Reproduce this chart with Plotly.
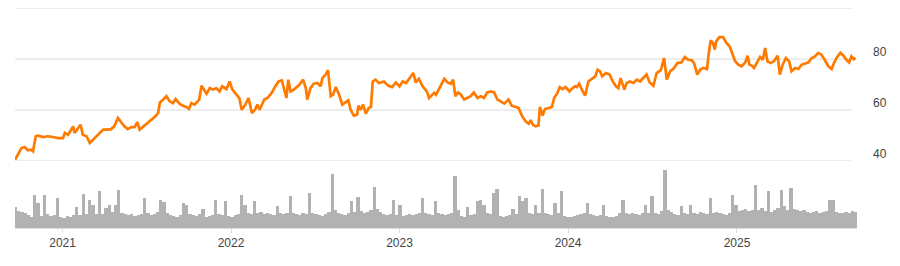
import pandas as pd
import plotly.graph_objects as go

# ---------------- data ----------------
price_dates = [
    "2020-09-20", "2020-09-26", "2020-10-04", "2020-10-11", "2020-10-18", "2020-10-25", "2020-10-29",
    "2020-11-04", "2020-11-09", "2020-11-20", "2020-11-30", "2020-12-11", "2020-12-22",
    "2021-01-02", "2021-01-06", "2021-01-13", "2021-01-20", "2021-01-24", "2021-01-27", "2021-02-03",
    "2021-02-09", "2021-02-14", "2021-02-22", "2021-03-01", "2021-03-08", "2021-03-15", "2021-03-22",
    "2021-03-30", "2021-04-09", "2021-04-16", "2021-04-23", "2021-05-01", "2021-05-08", "2021-05-15",
    "2021-05-22", "2021-05-30", "2021-06-06", "2021-06-12", "2021-06-17", "2021-06-24", "2021-07-05",
    "2021-07-12", "2021-07-20", "2021-07-27", "2021-07-31", "2021-08-07", "2021-08-14", "2021-08-21",
    "2021-08-28", "2021-09-03", "2021-09-11", "2021-09-19", "2021-09-26", "2021-10-02", "2021-10-07",
    "2021-10-14", "2021-10-24", "2021-10-29", "2021-11-03", "2021-11-09", "2021-11-16", "2021-11-23",
    "2021-11-30", "2021-12-07", "2021-12-13", "2021-12-22", "2021-12-29",
    "2022-01-04", "2022-01-11", "2022-01-19", "2022-01-24", "2022-02-01", "2022-02-08", "2022-02-15",
    "2022-02-22", "2022-02-27", "2022-03-04", "2022-03-14", "2022-03-21", "2022-03-30", "2022-04-07",
    "2022-04-14", "2022-04-21", "2022-04-26", "2022-05-01", "2022-05-05", "2022-05-10", "2022-05-17",
    "2022-05-29", "2022-06-06", "2022-06-12", "2022-06-15", "2022-06-22", "2022-06-29", "2022-07-07",
    "2022-07-14", "2022-07-18", "2022-07-25", "2022-07-30", "2022-08-05", "2022-08-10", "2022-08-16",
    "2022-08-23", "2022-08-30", "2022-09-06", "2022-09-12", "2022-09-17", "2022-09-24", "2022-10-01",
    "2022-10-04", "2022-10-09", "2022-10-14", "2022-10-20", "2022-10-26", "2022-10-31", "2022-11-04",
    "2022-11-10", "2022-11-17", "2022-11-28", "2022-12-08", "2022-12-16", "2022-12-24",
    "2023-01-01", "2023-01-08", "2023-01-15", "2023-01-22", "2023-01-31", "2023-02-05", "2023-02-12",
    "2023-02-20", "2023-03-01", "2023-03-06", "2023-03-12", "2023-03-17", "2023-03-21", "2023-03-28",
    "2023-04-08", "2023-04-15", "2023-04-22", "2023-04-27", "2023-05-02", "2023-05-08", "2023-05-14",
    "2023-05-21", "2023-05-28", "2023-06-04", "2023-06-11", "2023-06-19", "2023-06-26", "2023-07-03",
    "2023-07-10", "2023-07-18", "2023-07-25", "2023-08-01", "2023-08-08", "2023-08-16", "2023-08-25",
    "2023-09-01", "2023-09-10", "2023-09-16", "2023-09-23", "2023-10-01", "2023-10-08", "2023-10-12",
    "2023-10-17", "2023-10-23", "2023-10-29", "2023-11-01", "2023-11-07", "2023-11-12", "2023-11-20",
    "2023-11-27", "2023-12-02", "2023-12-09", "2023-12-14", "2023-12-20", "2023-12-27",
    "2024-01-04", "2024-01-11", "2024-01-16", "2024-01-20", "2024-01-25", "2024-01-31", "2024-02-07",
    "2024-02-14", "2024-02-22", "2024-02-29", "2024-03-05", "2024-03-10", "2024-03-15", "2024-03-23",
    "2024-03-31", "2024-04-07", "2024-04-14", "2024-04-19", "2024-04-24", "2024-04-28", "2024-05-02",
    "2024-05-07", "2024-05-14", "2024-05-22", "2024-05-29", "2024-06-05", "2024-06-12", "2024-06-19",
    "2024-06-26", "2024-07-04", "2024-07-11", "2024-07-20", "2024-07-27", "2024-08-02", "2024-08-09",
    "2024-08-16", "2024-08-25", "2024-09-03", "2024-09-10", "2024-09-17", "2024-09-25", "2024-09-30",
    "2024-10-07", "2024-10-13", "2024-10-20", "2024-10-28", "2024-11-01", "2024-11-05", "2024-11-10",
    "2024-11-14", "2024-11-17", "2024-11-24", "2024-12-02", "2024-12-09", "2024-12-16", "2024-12-21",
    "2024-12-28",
    "2025-01-04", "2025-01-11", "2025-01-19", "2025-01-24", "2025-01-28", "2025-02-02", "2025-02-07",
    "2025-02-14", "2025-02-20", "2025-02-26", "2025-03-03", "2025-03-08", "2025-03-15", "2025-03-22",
    "2025-03-30", "2025-04-04", "2025-04-10", "2025-04-17", "2025-04-24", "2025-04-29", "2025-05-07",
    "2025-05-14", "2025-05-21", "2025-05-29", "2025-06-05", "2025-06-12", "2025-06-19", "2025-06-26",
    "2025-07-03", "2025-07-10", "2025-07-18", "2025-07-25", "2025-07-30", "2025-08-06", "2025-08-13",
    "2025-08-21", "2025-08-26", "2025-09-01", "2025-09-06", "2025-09-11", "2025-09-15",
]

price_values = [
    40.5, 42.5, 45.1, 45.5, 44.2, 44.4, 43.8,
    49.7, 49.9, 49.4, 49.7, 49.4, 49.0,
    49.0, 51.0, 50.3, 52.3, 53.6, 51.0, 52.5,
    54.2, 50.3, 49.7, 47.1, 48.4, 49.4, 50.7,
    52.3, 52.3, 52.5, 53.6, 56.9, 55.2, 53.6,
    52.5, 53.3, 53.3, 55.2, 52.3, 53.3, 54.9,
    56.2, 57.3, 58.8, 63.0, 64.1, 65.4, 63.4,
    62.7, 64.3, 62.5, 61.7, 61.2, 60.4, 62.7,
    62.1, 64.1, 69.5, 68.2, 66.4, 68.6, 68.0,
    68.6, 67.3, 69.3, 68.2, 71.2,
    68.0, 66.4, 64.7, 60.1, 62.1, 64.7, 58.8,
    60.1, 62.1, 60.1, 64.1, 64.7, 66.7, 69.3,
    71.2, 71.6, 68.6, 64.7, 71.9, 67.3, 68.0,
    69.9, 71.9, 68.6, 64.1, 68.6, 70.3, 70.6,
    69.3, 72.5, 73.9, 75.6, 65.4, 66.0, 69.0,
    66.0, 62.1, 63.0, 63.8, 60.1, 57.8, 58.2,
    61.7, 60.1, 62.1, 58.6, 60.8, 61.2, 71.2,
    71.9, 70.6, 71.2, 69.5, 69.0, 70.8,
    69.3, 71.2, 70.6, 72.5, 74.5, 70.8, 72.2,
    69.3, 67.3, 64.7, 66.0, 66.7, 66.0, 68.2,
    72.2, 70.8, 70.3, 71.9, 65.4, 66.9, 66.0,
    64.1, 64.7, 65.4, 66.9, 64.7, 65.4, 64.7,
    66.9, 67.3, 66.9, 64.1, 63.4, 62.5, 64.1,
    61.7, 61.2, 60.8, 57.8, 55.6, 54.6, 56.0,
    54.2, 53.6, 53.9, 61.2, 57.8, 60.4, 60.8,
    61.2, 64.7, 66.7, 69.0, 68.2, 69.0,
    67.3, 68.6, 69.3, 69.0, 70.3, 68.0, 65.6,
    71.2, 72.2, 73.2, 75.8, 75.2, 73.2, 74.5,
    73.9, 71.2, 69.3, 68.6, 72.5, 70.6, 68.0,
    70.6, 71.2, 70.6, 71.9, 71.2, 72.5, 73.9,
    70.8, 69.5, 74.5, 75.6, 80.4, 71.9, 75.2,
    76.1, 78.4, 78.7, 80.8, 79.7, 79.5, 78.4,
    73.9, 75.8, 76.5, 76.1, 82.4, 87.3, 86.3,
    83.7, 86.9, 88.6, 88.6, 86.3, 85.0, 82.4,
    79.1,
    77.8, 77.1, 78.7, 81.3, 77.8, 77.4, 76.5,
    79.1, 80.8, 79.7, 84.3, 79.1, 78.4, 79.1,
    81.3, 73.9, 77.8, 80.4, 79.1, 75.2, 76.5,
    76.1, 77.8, 78.2, 78.7, 80.4, 81.0, 82.4,
    81.7, 79.7, 77.1, 76.1, 78.4, 80.8, 82.4,
    81.0, 79.7, 78.7, 81.0, 79.9, 80.4,
]

# weekly traded volume (millions), one value per week starting 2020-09-21
volume_values = [
    4.2, 3.4, 3.2, 3.0, 2.6, 2.2, 6.6, 5.0, 2.4, 6.6,
    2.8, 2.4, 2.6, 6.0, 2.2, 2.0, 2.4, 2.2, 2.6, 4.2,
    2.6, 6.8, 2.8, 5.6, 4.6, 2.8, 7.4, 2.8, 4.0, 4.6,
    3.2, 4.6, 7.6, 3.0, 2.8, 2.6, 2.8, 2.4, 2.6, 2.8,
    6.0, 3.0, 2.6, 2.8, 3.2, 5.6, 5.2, 3.0, 2.6, 2.4,
    2.2, 2.6, 5.0, 4.6, 2.8, 2.6, 2.4, 2.8, 3.8, 2.2,
    2.4, 2.6, 5.6, 2.8, 2.6, 5.4, 2.4, 2.2, 2.6, 2.8,
    6.6, 4.6, 3.0, 2.8, 5.4, 3.0, 3.2, 2.8, 3.0, 2.8,
    2.6, 4.4, 3.0, 2.8, 3.0, 6.4, 3.0, 2.8, 2.6, 3.0,
    2.8, 7.0, 3.0, 2.8, 2.6, 2.4, 2.8, 3.2, 10.8, 3.6,
    3.0, 2.8, 2.6, 3.0, 5.4, 3.2, 6.2, 3.4, 3.0, 3.2,
    3.6, 8.2, 3.8, 3.2, 2.8, 2.6, 2.8, 5.6, 2.6, 4.6,
    2.4, 2.6, 2.8, 2.6, 2.8, 3.0, 6.0, 3.0, 2.8, 2.6,
    5.4, 3.0, 2.8, 2.6, 2.8, 3.0, 10.4, 3.6, 2.4, 2.2,
    4.2, 2.6, 2.8, 5.4, 5.6, 4.6, 3.0, 2.8, 7.0, 7.8,
    2.4, 2.2, 2.4, 2.6, 3.8, 2.8, 6.4, 5.4, 6.0, 3.0,
    2.8, 4.6, 3.0, 7.8, 3.0, 2.8, 2.6, 5.0, 3.0, 7.4,
    2.4, 2.2, 2.2, 2.4, 2.6, 2.8, 3.0, 5.0, 2.8, 2.6,
    2.4, 2.6, 4.6, 2.4, 2.2, 2.2, 2.4, 3.0, 5.6, 3.0,
    2.8, 3.0, 2.8, 2.6, 3.0, 4.6, 3.0, 6.4, 3.0, 2.8,
    3.4, 11.6, 3.6, 3.2, 2.8, 2.6, 4.4, 3.0, 2.8, 4.6,
    3.0, 2.8, 3.2, 3.0, 2.8, 6.0, 3.0, 3.2, 3.0, 2.8,
    2.6, 3.0, 6.6, 4.6, 3.4, 3.6, 3.8, 3.4, 3.6, 8.6,
    3.6, 4.0, 3.4, 7.4, 3.2, 3.6, 4.0, 7.6, 4.4, 3.6,
    8.0, 3.8, 3.6, 3.4, 3.6, 3.2, 3.0, 3.2, 3.4, 3.0,
    3.2, 3.4, 5.6, 5.6, 3.2, 3.0, 3.0, 3.2, 3.0, 3.4, 3.2,
]
volume_dates = pd.date_range("2020-09-21", periods=len(volume_values), freq="7D")

year_ticks = ["2021-01-01", "2022-01-01", "2023-01-01", "2024-01-01", "2025-01-01"]
year_labels = ["2021", "2022", "2023", "2024", "2025"]
price_ticks = [40, 60, 80]
grid_levels = [40, 60, 80, 100]

# ---------------- figure ----------------
FONT = "Liberation Sans, Arial, sans-serif"

fig = go.Figure()
fig.add_trace(go.Bar(
    x=volume_dates, y=volume_values, xaxis="x", yaxis="y2",
    marker=dict(color="#b2b2b2", line=dict(width=0)),
    hoverinfo="skip",
))
fig.add_trace(go.Scatter(
    x=price_dates, y=price_values, xaxis="x", yaxis="y",
    mode="lines", line=dict(color="#ff7a00", width=2.7),
))

shapes = []
for g in grid_levels:
    shapes.append(dict(type="line", xref="paper", yref="y", x0=0, x1=0.994, y0=g, y1=g,
                       line=dict(color="#dcdcdc", width=1), layer="below"))

# right-hand price labels, sitting just above their gridlines
annotations = []
for t in price_ticks:
    annotations.append(dict(
        text=str(t), xref="paper", yref="y", x=1.0, y=t,
        xanchor="left", yanchor="middle", xshift=14, yshift=7,
        showarrow=False, font=dict(family=FONT, size=12, color="#444444"),
    ))

fig.update_layout(
    width=900, height=266,
    margin=dict(l=15, r=43, t=8, b=38),
    paper_bgcolor="white", plot_bgcolor="white",
    showlegend=False, bargap=0,
    font=dict(family=FONT, size=12, color="#444444"),
    shapes=shapes,
    annotations=annotations,
    xaxis=dict(
        type="date", range=["2020-09-20", "2025-09-18"], anchor="y2",
        showgrid=False, zeroline=False,
        showline=True, linecolor="#dedede", linewidth=1,
        ticks="outside", ticklen=4, tickcolor="#dedede",
        tickvals=year_ticks, ticktext=year_labels,
        tickfont=dict(size=12, color="#444444"),
    ),
    yaxis=dict(
        domain=[0.3045, 1.0], range=[40, 100], anchor="x",
        showgrid=False, zeroline=False, showline=False,
        showticklabels=False, ticks="",
    ),
    yaxis2=dict(
        domain=[0, 0.2636], range=[0, 11.6], anchor="x",
        visible=False,
    ),
)

fig.write_html("out.html")
